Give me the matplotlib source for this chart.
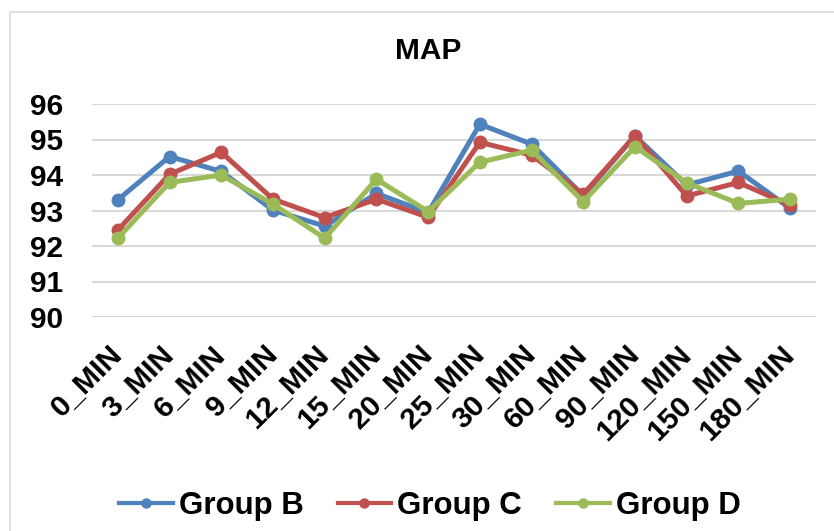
import numpy as np
import matplotlib
matplotlib.use("Agg")
import matplotlib.pyplot as plt
from matplotlib.lines import Line2D
from matplotlib.patches import Rectangle

plt.rcParams['font.family'] = ['Liberation Sans', 'DejaVu Sans']
plt.rcParams['font.weight'] = 'bold'

times = ["0_MIN", "3_MIN", "6_MIN", "9_MIN", "12_MIN", "15_MIN", "20_MIN",
         "25_MIN", "30_MIN", "60_MIN", "90_MIN", "120_MIN", "150_MIN", "180_MIN"]
group_b = [93.30, 94.52, 94.10, 93.01, 92.56, 93.48, 92.94,
           95.43, 94.87, 93.42, 95.10, 93.72, 94.11, 93.06]
group_c = [92.45, 94.02, 94.64, 93.32, 92.80, 93.32, 92.81,
           94.92, 94.56, 93.46, 95.11, 93.41, 93.79, 93.15]
group_d = [92.22, 93.79, 94.00, 93.18, 92.22, 93.88, 92.97,
           94.36, 94.70, 93.25, 94.80, 93.78, 93.20, 93.32]

series = [("Group B", group_b, "#4F81BD"),
          ("Group C", group_c, "#C0504D"),
          ("Group D", group_d, "#9BBB59")]

W, H = 834, 531
fig = plt.figure(figsize=(W / 100, H / 100), dpi=100)

# chart frame
fig.patches.append(Rectangle((10 / W, -0.1), 1.2, 1 - 12 / H + 0.1,
                             transform=fig.transFigure, fill=False,
                             edgecolor="#D9D9D9", linewidth=1.2))

ax = fig.add_axes([92 / W, 1 - 317 / H, (816 - 92) / W, (317 - 104) / H])
x = np.arange(len(times))
for name, vals, col in series:
    ax.plot(x, vals, "-o", color=col, lw=3.6, ms=9, label=name)

ax.set_xlim(-0.5, len(times) - 0.5)
ax.set_ylim(90, 96)
ax.set_yticks(range(90, 97))
ax.yaxis.grid(True, color="#D9D9D9", lw=1.5)
ax.set_axisbelow(True)
for s in ax.spines.values():
    s.set_visible(False)
ax.tick_params(length=0, labelsize=21.5)
ax.tick_params(axis="y", pad=21)
ax.tick_params(axis="x", pad=24)
ax.set_xticks(x)
ax.set_xticklabels(times, rotation=45, ha="right", va="center",
                   rotation_mode="anchor", fontweight="bold")
for lab in ax.get_yticklabels():
    lab.set_fontweight("bold")

fig.text(428 / W, 1 - 51 / H, "MAP", ha="center", va="center",
         fontsize=21.5, fontweight="bold")

handles = [Line2D([], [], color=col, lw=3, marker="o", ms=6.5)
           for _, _, col in series]
fig.legend(handles, [s[0] for s in series], loc="center",
           bbox_to_anchor=(430 / W, 1 - 506 / H), ncol=3, frameon=False,
           handlelength=1.7, handletextpad=0.2, columnspacing=1.1,
           prop={"weight": "bold", "size": 22.5})

fig.savefig("out.png", dpi=100)
